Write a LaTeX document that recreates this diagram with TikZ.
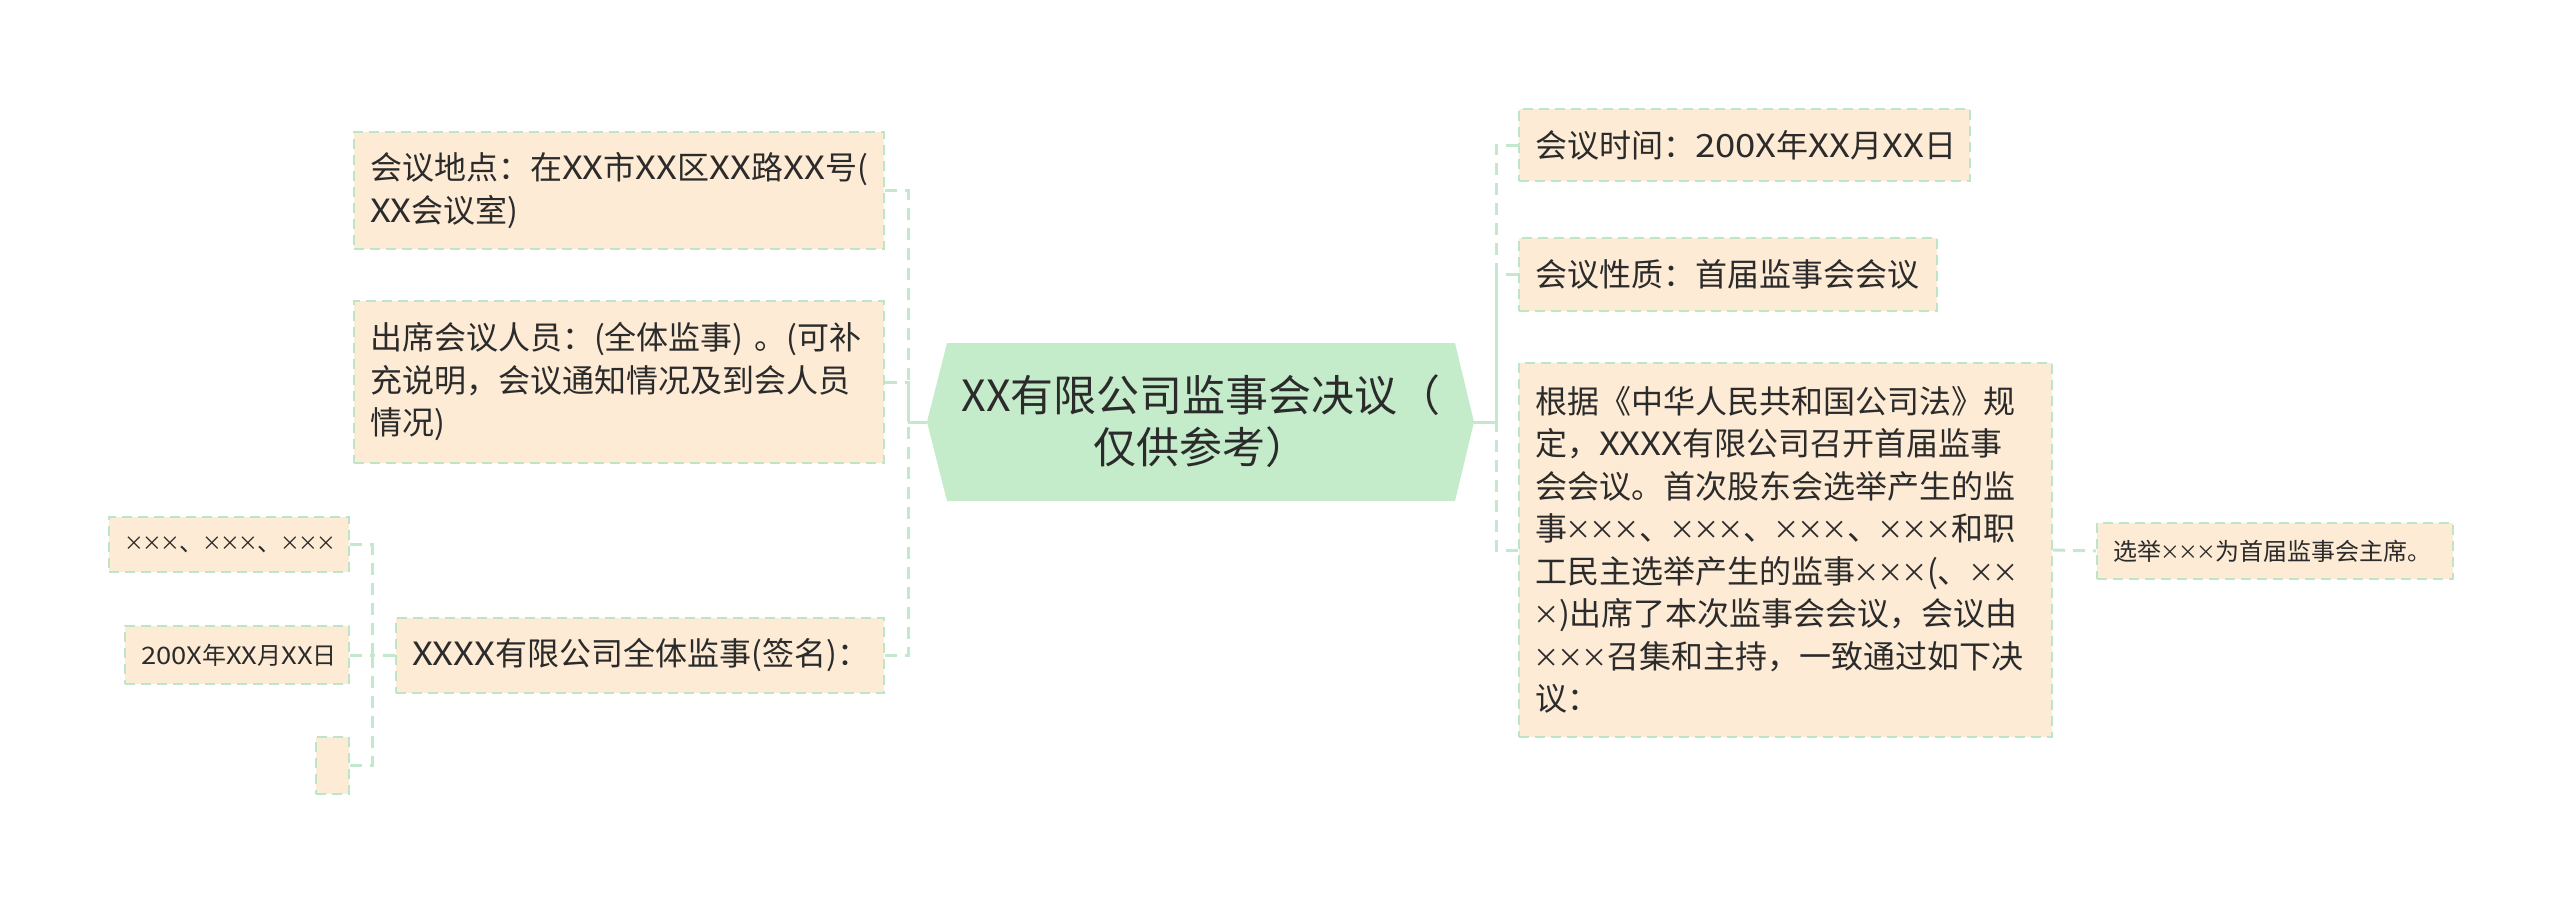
\documentclass[tikz,border=0pt]{standalone}
\usepackage{fontspec}
\setmainfont{Noto Sans CJK SC}
\newfontfamily\latf{Noto Sans CJK SC}[FakeStretch=1.14]
\newcommand\lat[1]{{\latf #1}}
\newcommand\mx{\leavevmode\hbox to 0.75em{\hss\raisebox{0.04em}{\scalebox{0.82}{×}}\hss}}
\definecolor{boxc}{HTML}{FDEBD5}
\definecolor{linec}{HTML}{BDE5C8}
\definecolor{connc}{HTML}{C3E8CE}
\definecolor{hexc}{HTML}{C4EBCA}
\definecolor{txtc}{HTML}{2B2B2B}
\begin{document}
\begin{tikzpicture}[x=1pt,y=-1pt,
  leaf/.style={draw=linec, line width=2pt, dash pattern=on 10pt off 6pt, fill=boxc,
    anchor=north west, inner xsep=16pt, inner ysep=0pt, align=left, text=txtc,
    font=\fontsize{32}{42.5}\selectfont},
  smalltxt/.style={font=\fontsize{24}{32}\selectfont},
  conn/.style={draw=connc, line width=3pt, dash pattern=on 12pt off 8pt},
  solidconn/.style={draw=connc, line width=3pt}]
\useasboundingbox (0,0) rectangle (2560,902);
% centre hexagon
\fill[hexc] (927,422) -- (947,343) -- (1455,343) -- (1474,422) -- (1455,501) -- (947,501) -- cycle;
\node[text=txtc, align=center, font=\fontsize{43}{52}\selectfont] (ctr) at (1201,421) {XX有限公司监事会决议（\\仅供参考）};
\coordinate (hl) at (927,422);
\coordinate (hr) at (1474,422);
% left branch
\node[leaf, text width=498pt, minimum height=117pt] (b1) at (353,131) {会议地点：在\lat{XX}市\lat{XX}区\lat{XX}路\lat{XX}号(\\\lat{XX}会议室)};
\node[leaf, text width=498pt, minimum height=162pt] (b2) at (353,300) {出席会议人员：(全体监事) 。(可补\\充说明，会议通知情况及到会人员\\情况)};
\node[leaf, text width=456pt, minimum height=75pt] (b3) at (395,617) {\lat{XXXX}有限公司全体监事(签名)：};
\node[leaf, smalltxt, text width=208pt, minimum height=55pt] (c1) at (108,516) {\mx\mx\mx{}、\mx\mx\mx{}、\mx\mx\mx};
\node[leaf, smalltxt, text width=192pt, minimum height=58pt] (c2) at (124,625) {\lat{200X}年\lat{XX}月\lat{XX}日};
\node[leaf, inner xsep=0pt, minimum width=33pt, minimum height=57pt] (c3) at (315,736) {};
% right branch
\node[leaf, text width=419pt, minimum height=72pt] (r1) at (1518,108) {会议时间：\lat{200X}年\lat{XX}月\lat{XX}日};
\node[leaf, text width=386pt, minimum height=73pt] (r2) at (1518,237) {会议性质：首届监事会会议};
\node[leaf, text width=501pt, minimum height=374pt] (r3) at (1518,362) {根据《中华人民共和国公司法》规\\定，\lat{XXXX}有限公司召开首届监事\\会会议。首次股东会选举产生的监\\事\mx\mx\mx{}、\mx\mx\mx{}、\mx\mx\mx{}、\mx\mx\mx{}和职\\工民主选举产生的监事\mx\mx\mx{}(、\mx\mx{}\\\mx{})出席了本次监事会会议，会议由\\\mx\mx\mx{}召集和主持，一致通过如下决\\议：};
\node[leaf, smalltxt, text width=324pt, minimum height=56pt] (r4) at (2096,522) {选举\mx\mx\mx{}为首届监事会主席。};
% connectors
\coordinate (lv) at (908,422);
\coordinate (rv) at (1496,422);
\coordinate (sv) at (372,655);
\draw[solidconn] (hl) -- (lv);
\draw[solidconn] (hr) -- (rv);
\draw[conn] (b1.east) -| (lv);
\draw[conn] (b2.east) -| (lv);
\draw[conn] (b3.east) -| (lv);
\draw[conn] (r1.west) -| (rv);
\draw[conn] (r2.west) -| (rv);
\draw[conn] (r3.west) -| (rv);
\draw[conn] (r3.east) -- (r4.west);
\draw[conn] (b3.west) -- (sv);
\draw[conn] (c1.east) -| (sv);
\draw[conn] (c2.east) -- (sv);
\draw[conn] (c3.east) -| (sv);
\end{tikzpicture}
\end{document}
